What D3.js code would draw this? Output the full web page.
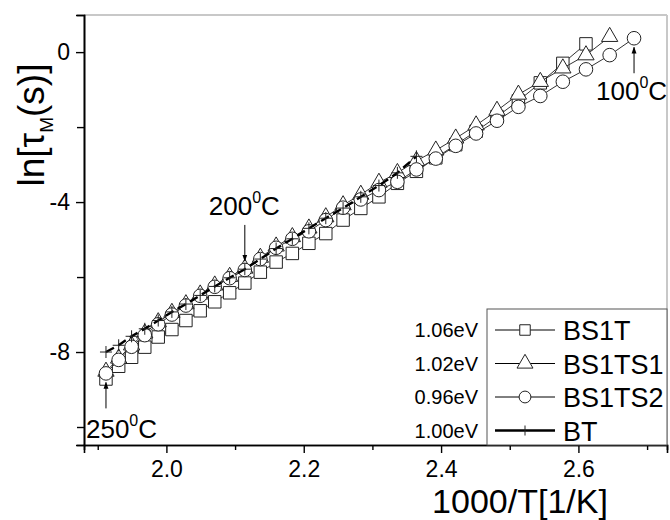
<!DOCTYPE html>
<html>
<head>
<meta charset="utf-8">
<script src="https://cdn.jsdelivr.net/npm/d3@7"></script>
<style>
  body { margin: 0; background: #fff; }
  svg text { font-family: "Liberation Sans", Arial, sans-serif; fill: #000; }
</style>
</head>
<body>
<div id="chart"></div>
<script>
// 1000/T values, 250C down to 100C in 5C steps
var invT = [1.9120, 1.9305, 1.9493, 1.9685, 1.9881, 2.0080, 2.0284, 2.0492, 2.0704, 2.0921,
            2.1142, 2.1368, 2.1598, 2.1834, 2.2075, 2.2321, 2.2573, 2.2831, 2.3095, 2.3364,
            2.3641, 2.3923, 2.4213, 2.4510, 2.4814, 2.5126, 2.5445, 2.5773, 2.6110, 2.6455,
            2.6810];

var bs1t   = [-8.72, -8.38, -8.14, -7.87, -7.60, -7.40, -7.16, -6.90, -6.66, -6.42,
              -6.16, -5.87, -5.60, -5.37, -5.10, -4.84, -4.48, -4.17, -3.86, -3.50,
              -3.18, -2.82, -2.47, -2.11, -1.72, -1.30, -0.82, -0.30, 0.22];
var bs1ts1 = [-8.52, -8.17, -7.82, -7.50, -7.20, -6.95, -6.72, -6.46, -6.22, -5.99,
              -5.77, -5.48, -5.18, -4.93, -4.70, -4.40, -4.08, -3.80, -3.48, -3.22,
              -2.90, -2.62, -2.30, -1.95, -1.56, -1.13, -0.79, -0.43, -0.08, 0.41];
var bs1ts2 = [-8.57, -8.21, -7.86, -7.55, -7.26, -7.00, -6.76, -6.50, -6.26, -6.03,
              -5.81, -5.52, -5.22, -4.98, -4.78, -4.48, -4.15, -3.93, -3.68, -3.46,
              -3.13, -2.84, -2.50, -2.17, -1.83, -1.46, -1.17, -0.79, -0.46, -0.08,
              0.37];
var bt     = [-8.00, -7.82, -7.58, -7.38, -7.16, -6.93, -6.72, -6.49, -6.25, -6.02,
              -5.79, -5.52, -5.24, -4.98, -4.70, -4.43, -4.16, -3.86, -3.56, -3.22,
              -2.78];

var seriesNames = ["BS1T", "BS1TS1", "BS1TS2", "BT"];
var energies    = ["1.06eV", "1.02eV", "0.96eV", "1.00eV"];

var xMajor = [2.0, 2.2, 2.4, 2.6];
var xMinor = [1.9, 2.1, 2.3, 2.5, 2.7];
var yMajor = [0, -4, -8];
var yMinor = [-2, -6, -10];

// temperature notes: label, 1000/T and ln(tau) of the marked point
var notes = [
    {label: "100", x: 2.6810, y: 0.37,  dir: "up"},
    {label: "200", x: 2.1142, y: -5.81, dir: "down"},
    {label: "250", x: 1.9120, y: -8.57, dir: "up"}
];

var width = 670, height = 520;
var margins = {top: 15, right: 3, bottom: 75, left: 84};

var svg = d3.select("#chart").append("svg")
    .attr("width", width)
    .attr("height", height);

var x = d3.scaleLinear().domain([1.88, 2.729]).range([margins.left, width - margins.right]);
var y = d3.scaleLinear().domain([-10.48, 0.99]).range([height - margins.bottom, margins.top]);

function pairs(vals){
    return vals.map(function(v, i){ return [invT[i], v]; });
}

/* frame: grey top / right, black axes */
svg.append("line")
    .attr("x1", x.range()[0]).attr("x2", x.range()[1])
    .attr("y1", y.range()[1]).attr("y2", y.range()[1])
    .attr("stroke", "#c8c8c8").attr("stroke-width", 2);
svg.append("line")
    .attr("x1", x.range()[1]).attr("x2", x.range()[1])
    .attr("y1", y.range()[1]).attr("y2", y.range()[0])
    .attr("stroke", "#c8c8c8").attr("stroke-width", 2);

/* Axes */
svg.append("g")
    .attr("transform", "translate(0," + y.range()[0] + ")")
    .call(d3.axisBottom(x).tickValues(xMajor).tickSize(8).tickPadding(8).tickFormat(d3.format(".1f")));
svg.append("g")
    .attr("transform", "translate(0," + y.range()[0] + ")")
    .call(d3.axisBottom(x).tickValues(xMinor).tickSize(5).tickFormat(""));
svg.append("g")
    .attr("transform", "translate(" + x.range()[0] + ",0)")
    .call(d3.axisLeft(y).tickValues(yMajor).tickSize(8).tickPadding(6)
        .tickFormat(function(d){ return String(d); }));
svg.append("g")
    .attr("transform", "translate(" + x.range()[0] + ",0)")
    .call(d3.axisLeft(y).tickValues(yMinor).tickSize(7).tickFormat(""));

svg.selectAll(".domain").attr("stroke", "#000").attr("stroke-width", 1.6);
svg.selectAll(".tick line").attr("stroke", "#000").attr("stroke-width", 1.4);
svg.selectAll(".tick text")
    .style("font-family", "Liberation Sans, Arial, sans-serif")
    .style("font-size", "23px")
    .attr("fill", "#000");

/* Axis titles */
svg.append("text")
    .attr("x", 520).attr("y", 513)
    .attr("text-anchor", "middle")
    .style("font-size", "34px")
    .text("1000/T[1/K]");

var yt = svg.append("text")
    .attr("transform", "translate(44,125) rotate(-90)")
    .attr("text-anchor", "middle")
    .style("font-size", "37px");
yt.append("tspan").text("ln[");
yt.append("tspan").text("τ");
yt.append("tspan").attr("dy", 9).style("font-size", "19px").text("M");
yt.append("tspan").attr("dy", -9).text("(s)]");

/* Lines + markers */
var line = d3.line()
    .x(function(d){ return x(d[0]); })
    .y(function(d){ return y(d[1]); });

var plot = svg.append("g");

function drawSeries(vals, symbol, size){
    var data = pairs(vals);
    plot.append("path")
        .datum(data)
        .attr("fill", "none")
        .attr("stroke", "#333")
        .attr("stroke-width", 1)
        .attr("d", line);
    plot.selectAll(null)
        .data(data)
        .enter()
        .append("path")
            .attr("transform", function(d){ return "translate(" + x(d[0]) + "," + y(d[1]) + ")"; })
            .attr("d", d3.symbol().type(symbol).size(size))
            .attr("fill", "#fff")
            .attr("stroke", "#222")
            .attr("stroke-width", 1);
}

drawSeries(bs1t, d3.symbolSquare, 155);
drawSeries(bs1ts1, d3.symbolTriangle, 115);
drawSeries(bs1ts2, d3.symbolCircle, 145);

// BT: thick dashed black line with thin plus markers
var btData = pairs(bt);
plot.append("path")
    .datum(btData)
    .attr("fill", "none")
    .attr("stroke", "#000")
    .attr("stroke-width", 2.4)
    .attr("stroke-dasharray", "9,5")
    .attr("d", line);
plot.selectAll(null)
    .data(btData)
    .enter()
    .append("path")
        .attr("transform", function(d){ return "translate(" + x(d[0]) + "," + y(d[1]) + ")"; })
        .attr("d", "M-6,0H6M0,-6V6")
        .attr("stroke", "#222")
        .attr("stroke-width", 1);

/* Temperature notes with arrows */
svg.append("defs").append("marker")
    .attr("id", "head")
    .attr("viewBox", "0 0 10 10")
    .attr("refX", 9).attr("refY", 5)
    .attr("markerWidth", 7).attr("markerHeight", 9)
    .attr("orient", "auto")
    .append("path")
        .attr("d", "M0,1.5L10,5L0,8.5Z")
        .attr("fill", "#000");

notes.forEach(function(n){
    var px = x(n.x), py = y(n.y);
    var y1, y2, tx, ty;
    if (n.dir === "up") {
        y1 = py + 35; y2 = py + 9;
        ty = py + (n.label === "100" ? 62 : 65);
        tx = n.label === "100" ? px - 38 : px - 20;
    } else {
        y1 = py - 45; y2 = py - 9;
        ty = py - 55;
        tx = px - 36;
    }
    svg.append("line")
        .attr("x1", px).attr("x2", px)
        .attr("y1", y1).attr("y2", y2)
        .attr("stroke", "#000").attr("stroke-width", 1)
        .attr("marker-end", "url(#head)");
    var t = svg.append("text")
        .attr("x", tx).attr("y", ty)
        .style("font-size", "26px");
    t.append("tspan").text(n.label);
    t.append("tspan").attr("dy", -12).style("font-size", "16px").text("0");
    t.append("tspan").attr("dy", 12).text("C");
});

/* Legend */
var lg = svg.append("g").attr("transform", "translate(487,309)");
lg.append("rect")
    .attr("width", 180).attr("height", 136)
    .attr("fill", "#fff")
    .attr("stroke", "#555").attr("stroke-width", 1);

var legendSymbols = [d3.symbolSquare, d3.symbolTriangle, d3.symbolCircle, null];
seriesNames.forEach(function(name, i){
    var ly = 21 + i * 33.5;
    var row = lg.append("g").attr("transform", "translate(0," + ly + ")");
    row.append("line")
        .attr("x1", 8).attr("x2", 68)
        .attr("stroke", "#000")
        .attr("stroke-width", legendSymbols[i] ? 1 : 2.6);
    if (legendSymbols[i]) {
        row.append("path")
            .attr("transform", "translate(38,0)")
            .attr("d", d3.symbol().type(legendSymbols[i]).size(110))
            .attr("fill", "#fff").attr("stroke", "#222");
    } else {
        row.append("path")
            .attr("transform", "translate(38,0)")
            .attr("d", "M0,-5V5")
            .attr("stroke", "#222");
    }
    row.append("text")
        .attr("x", 76).attr("y", 10)
        .style("font-size", "27px")
        .text(name);
    svg.append("text")
        .attr("x", 478).attr("y", 309 + ly + 7)
        .attr("text-anchor", "end")
        .style("font-size", "20px")
        .text(energies[i]);
});
</script>
</body>
</html>
